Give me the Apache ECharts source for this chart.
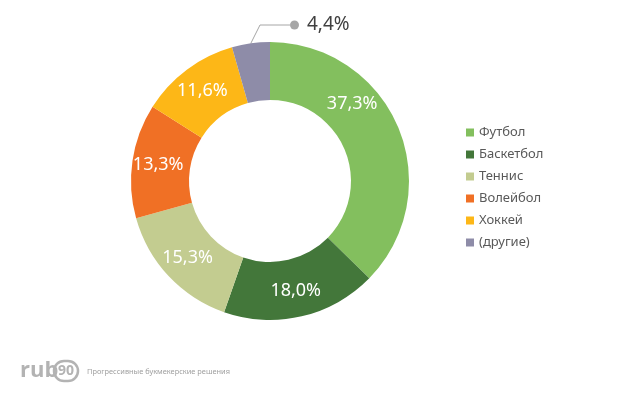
<!DOCTYPE html>
<html>
<head>
<meta charset="utf-8">
<script src="https://cdn.jsdelivr.net/npm/echarts@6/dist/echarts.min.js"></script>
<style>html,body{margin:0;padding:0;background:#fff;}#c{width:618px;height:400px;}</style>
</head>
<body>
<div id="c"></div>
<script>
const categories = ['Футбол', 'Баскетбол', 'Теннис', 'Волейбол', 'Хоккей', '(другие)'];
const values = [37.3, 18.0, 15.3, 13.3, 11.6, 4.4];
const colors = ['#83BF5E', '#43773A', '#C3CC90', '#F07025', '#FDB717', '#8E8CA8'];

const fmt = v => v.toFixed(1).replace('.', ',') + '%';
const FONT = '"Noto Sans", "Open Sans", sans-serif';

const data = categories.map((name, i) => {
  const item = { name: name, value: values[i], itemStyle: { color: colors[i] } };
  if (i === 0) {
    item.label = { offset: [-22, -33] };
  }
  if (i === categories.length - 1) {
    item.label = {
      position: 'outside',
      formatter: p => '{dot|}{v|' + fmt(p.value) + '}',
      rich: {
        dot: { width: 9, height: 9, backgroundColor: '#A6A6A6', borderRadius: 5 },
        v: { fontSize: 19, color: '#404040', fontFamily: FONT, padding: [0, 0, 0, 8] }
      }
    };
    item.labelLine = { show: true, lineStyle: { color: '#A6A6A6', width: 1 } };
  }
  return item;
});

const chart = echarts.init(document.getElementById('c'), null, { renderer: 'canvas' });
chart.setOption({
  backgroundColor: '#fff',
  animation: false,
  legend: {
    orient: 'vertical',
    left: 461,
    top: 121,
    icon: 'rect',
    itemWidth: 8,
    itemHeight: 8,
    itemGap: 9,
    textStyle: { fontSize: 13, color: '#595959', fontFamily: FONT, lineHeight: 13 },
    data: categories
  },
  series: [{
    type: 'pie',
    center: [270, 181],
    radius: [81, 139],
    startAngle: 90,
    clockwise: true,
    avoidLabelOverlap: false,
    label: {
      show: true,
      position: 'inside',
      formatter: p => fmt(p.value),
      color: '#fff',
      fontSize: 18,
      fontFamily: FONT
    },
    labelLine: { show: false },
    labelLayout: function (params) {
      if (params.dataIndex === categories.length - 1) {
        return { x: 290, y: 25, align: 'left', verticalAlign: 'middle' };
      }
    },
    emphasis: { disabled: true },
    data: data
  }],
  graphic: [
    { type: 'text', x: 20, y: 371, style: { text: 'rub', fontSize: 22, fontWeight: 'bold', fill: '#B3B3B3', fontFamily: '"Open Sans", sans-serif', verticalAlign: 'middle' } },
    { type: 'rect', shape: { x: 54, y: 361, width: 24, height: 20, r: 10 }, style: { fill: 'none', stroke: '#B3B3B3', lineWidth: 2.5 } },
    { type: 'text', x: 66, y: 371, style: { text: '90', fontSize: 14, fontWeight: 'bold', fill: '#B3B3B3', fontFamily: '"Open Sans", sans-serif', align: 'center', verticalAlign: 'middle' } },
    { type: 'text', x: 87, y: 372, style: { text: 'Прогрессивные букмекерские решения', fontSize: 7.4, fill: '#A0A0A0', fontFamily: FONT, verticalAlign: 'middle' } }
  ]
});
</script>
</body>
</html>
